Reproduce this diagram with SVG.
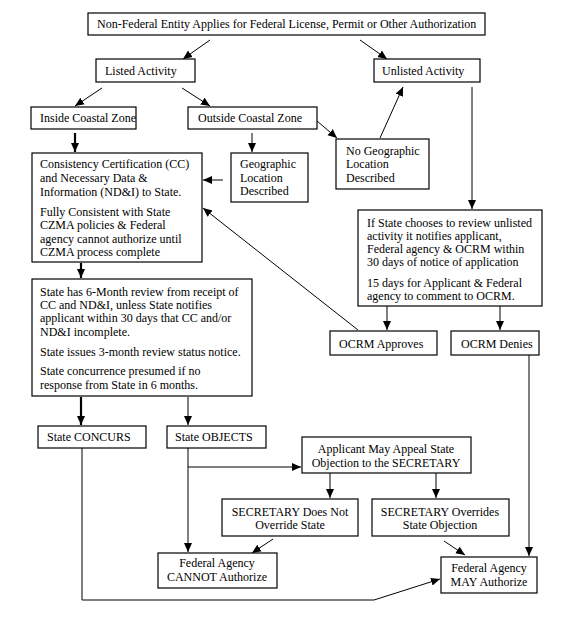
<svg xmlns="http://www.w3.org/2000/svg" width="574" height="620" viewBox="0 0 574 620">
<style>
rect{fill:#fff;stroke:#000;stroke-width:1.2}
text{font-family:"Liberation Serif","Times New Roman",serif;font-size:12px;fill:#000}
.c{text-anchor:middle}
.l{fill:none;stroke:#000;stroke-width:1}
.t{fill:none;stroke:#000;stroke-width:2.2}
</style>
<defs>
<marker id="a" markerUnits="userSpaceOnUse" markerWidth="10" markerHeight="10" viewBox="0 0 10 10" refX="9" refY="5" orient="auto"><path d="M0,1 L9,5 L0,9 Z" fill="#000"/></marker>
</defs>
<rect width="574" height="620" style="fill:#fff;stroke:none"/>
<g id="connectors">
<line class="l" x1="210" y1="40" x2="183" y2="59" marker-end="url(#a)"/>
<line class="l" x1="360" y1="40" x2="387" y2="59" marker-end="url(#a)"/>
<line class="l" x1="102" y1="88" x2="75" y2="106" marker-end="url(#a)"/>
<line class="l" x1="182" y1="88" x2="210" y2="106" marker-end="url(#a)"/>
<line class="l" x1="317" y1="121" x2="337" y2="138" marker-end="url(#a)"/>
<line class="l" x1="380" y1="138" x2="403" y2="87" marker-end="url(#a)"/>
<line class="l" x1="472" y1="87" x2="472" y2="209" marker-end="url(#a)"/>
<line class="t" x1="75" y1="133" x2="75" y2="152" marker-end="url(#a)"/>
<line class="l" x1="252" y1="133" x2="252" y2="152" marker-end="url(#a)"/>
<line class="l" x1="223" y1="180" x2="203" y2="180" marker-end="url(#a)"/>
<line class="l" x1="358" y1="330" x2="203" y2="208" marker-end="url(#a)"/>
<line class="t" x1="81" y1="263" x2="81" y2="278" marker-end="url(#a)"/>
<line class="l" x1="387" y1="306" x2="387" y2="330" marker-end="url(#a)"/>
<line class="l" x1="500" y1="306" x2="500" y2="330" marker-end="url(#a)"/>
<line class="t" x1="81" y1="397" x2="81" y2="425" marker-end="url(#a)"/>
<line class="l" x1="188" y1="397" x2="188" y2="425" marker-end="url(#a)"/>
<line class="l" x1="188" y1="448" x2="188" y2="552" marker-end="url(#a)"/>
<line class="l" x1="188" y1="467" x2="301" y2="467" marker-end="url(#a)"/>
<line class="l" x1="330" y1="473" x2="330" y2="498" marker-end="url(#a)"/>
<line class="l" x1="436" y1="473" x2="436" y2="498" marker-end="url(#a)"/>
<line class="l" x1="273" y1="539" x2="252" y2="553" marker-end="url(#a)"/>
<line class="l" x1="444" y1="541" x2="465" y2="555" marker-end="url(#a)"/>
<line class="l" x1="529" y1="355" x2="529" y2="556" marker-end="url(#a)"/>
<polyline class="l" points="82,448 82,600 374,600 440,579" marker-end="url(#a)"/>
</g>
<g id="n-top"><rect x="88" y="13" width="397" height="22"/><text x="97" y="28">Non-Federal Entity Applies for Federal License, Permit or Other Authorization</text></g>
<g id="n-listed"><rect x="96" y="59" width="99" height="23"/><text x="105" y="75">Listed Activity</text></g>
<g id="n-unlisted"><rect x="374" y="59" width="106" height="23"/><text x="382" y="75">Unlisted Activity</text></g>
<g id="n-inside"><rect x="31" y="107" width="105" height="22"/><text x="40" y="122">Inside Coastal Zone</text></g>
<g id="n-outside"><rect x="188" y="107" width="129" height="22"/><text x="198" y="122">Outside Coastal Zone</text></g>
<g id="n-nogeo"><rect x="336" y="139" width="93" height="50"/><text x="346" y="155">No Geographic</text><text x="346" y="168">Location</text><text x="346" y="182">Described</text></g>
<g id="n-geo"><rect x="231" y="153" width="77" height="49"/><text x="240" y="168">Geographic</text><text x="240" y="182">Location</text><text x="240" y="195">Described</text></g>
<g id="n-cc"><rect x="32" y="153" width="170" height="109"/>
<text x="40" y="168">Consistency Certification (CC)</text><text x="40" y="182">and Necessary Data &amp;</text><text x="40" y="196">Information (ND&amp;I) to State.</text>
<text x="40" y="216">Fully Consistent with State</text><text x="40" y="229">CZMA policies &amp; Federal</text><text x="40" y="243">agency cannot authorize until</text><text x="40" y="256">CZMA process complete</text></g>
<g id="n-ifstate"><rect x="358" y="210" width="184" height="96"/>
<text x="367" y="227">If State chooses to review unlisted</text><text x="367" y="240">activity it notifies applicant,</text><text x="367" y="253">Federal agency &amp; OCRM within</text><text x="367" y="266">30 days of notice of application</text>
<text x="367" y="287">15 days for Applicant &amp; Federal</text><text x="367" y="300">agency to comment to OCRM.</text></g>
<g id="n-statehas"><rect x="32" y="279" width="220" height="117"/>
<text x="40" y="296">State has 6-Month review from receipt of</text><text x="40" y="309">CC and ND&amp;I, unless State notifies</text><text x="40" y="322">applicant within 30 days that CC and/or</text><text x="40" y="336">ND&amp;I incomplete.</text>
<text x="40" y="356">State issues 3-month review status notice.</text>
<text x="40" y="375">State concurrence presumed if no</text><text x="40" y="389">response from State in 6 months.</text></g>
<g id="n-approves"><rect x="330" y="331" width="107" height="24"/><text x="339" y="348">OCRM Approves</text></g>
<g id="n-denies"><rect x="451" y="331" width="88" height="24"/><text x="461" y="348">OCRM Denies</text></g>
<g id="n-concurs"><rect x="38" y="426" width="108" height="22"/><text x="47" y="441">State CONCURS</text></g>
<g id="n-objects"><rect x="167" y="426" width="99" height="22"/><text x="175" y="441">State OBJECTS</text></g>
<g id="n-appeal"><rect x="302" y="437" width="169" height="36"/><text class="c" x="386" y="453">Applicant May Appeal State</text><text class="c" x="386" y="467">Objection to the SECRETARY</text></g>
<g id="n-secnot"><rect x="222" y="499" width="136" height="37"/><text class="c" x="290" y="516">SECRETARY Does Not</text><text class="c" x="290" y="529">Override State</text></g>
<g id="n-secover"><rect x="372" y="499" width="137" height="37"/><text class="c" x="440" y="516">SECRETARY Overrides</text><text class="c" x="440" y="529">State Objection</text></g>
<g id="n-cannot"><rect x="158" y="553" width="119" height="35"/><text class="c" x="217" y="567">Federal Agency</text><text class="c" x="217" y="581">CANNOT Authorize</text></g>
<g id="n-may"><rect x="441" y="557" width="96" height="36"/><text class="c" x="489" y="572">Federal Agency</text><text class="c" x="489" y="586">MAY Authorize</text></g>
</svg>
